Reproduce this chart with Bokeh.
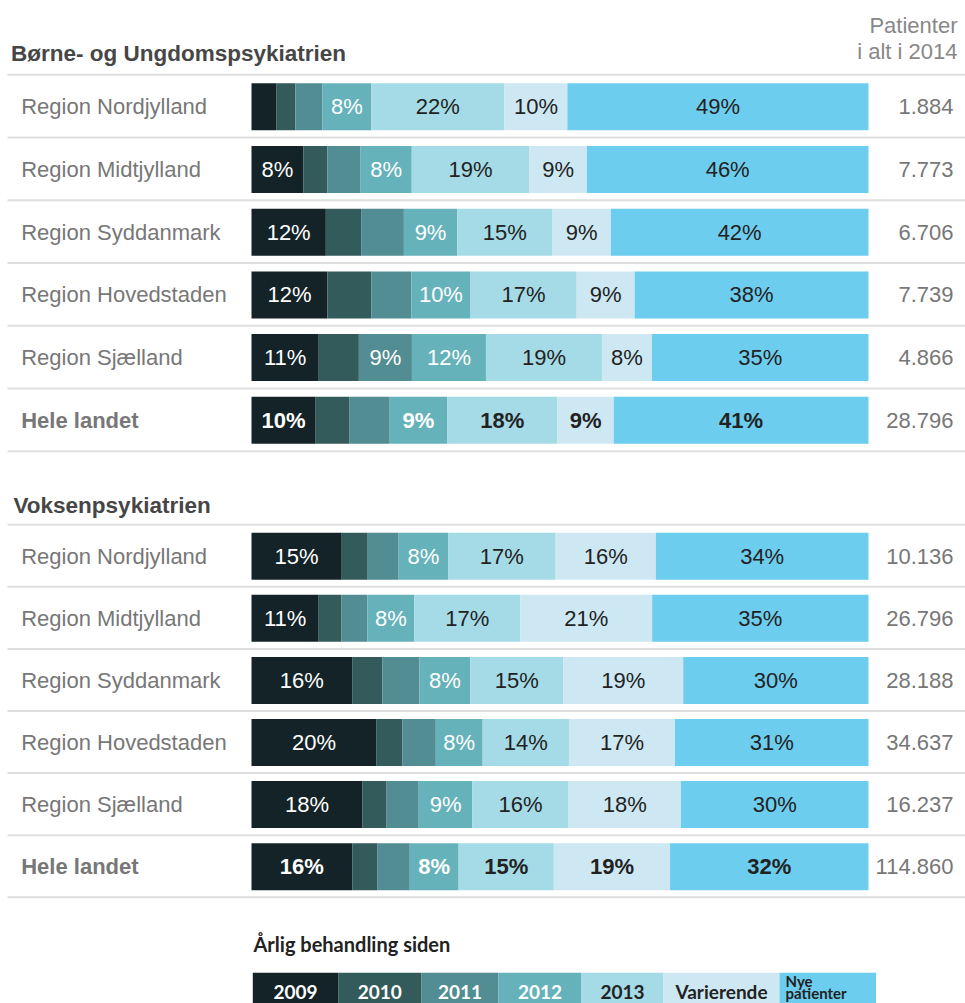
from bokeh.plotting import figure
from bokeh.models import Range1d, ColumnDataSource
from bokeh.core.properties import value
from bokeh.embed import file_html
from bokeh.resources import INLINE

# ---------------- data ----------------
regions = ["Region Nordjylland", "Region Midtjylland", "Region Syddanmark",
           "Region Hovedstaden", "Region Sjælland", "Hele landet"]
series = ["2009", "2010", "2011", "2012", "2013", "Varierende", "Nye patienter"]

bup_2009 = [4.0, 8.4, 12.0, 12.3, 10.9, 10.4]
bup_2010 = [3.1, 3.9, 5.7, 7.1, 6.5, 5.5]
bup_2011 = [4.4, 5.4, 6.9, 6.5, 8.6, 6.5]
bup_2012 = [7.9, 8.3, 8.6, 9.6, 12.0, 9.3]
bup_2013 = [21.6, 19.1, 15.4, 17.2, 18.8, 17.9]
bup_var = [10.2, 9.3, 9.4, 9.4, 8.1, 9.1]
bup_nye = [48.8, 45.7, 41.6, 37.9, 35.1, 41.3]
bup_total = [1884, 7773, 6706, 7739, 4866, 28796]

vok_2009 = [14.6, 10.9, 16.3, 20.3, 18.0, 16.3]
vok_2010 = [4.2, 3.7, 4.9, 4.2, 3.9, 4.1]
vok_2011 = [5.0, 4.2, 6.0, 5.4, 5.2, 5.2]
vok_2012 = [8.0, 7.6, 8.2, 7.6, 8.7, 7.9]
vok_2013 = [17.4, 17.2, 15.1, 14.0, 15.6, 15.4]
vok_var = [16.2, 21.4, 19.4, 17.2, 18.2, 18.8]
vok_nye = [34.4, 35.1, 30.0, 31.4, 30.4, 32.1]
vok_total = [10136, 26796, 28188, 34637, 16237, 114860]

section_titles = ["Børne- og Ungdomspsykiatrien", "Voksenpsykiatrien"]
header_lines = ["Patienter", "i alt i 2014"]
legend_title = "Årlig behandling siden"

# ---------------- styles ----------------
colors = ["#132327", "#345b5b", "#528d93", "#66b2bb", "#a5dbe6", "#cde8f3", "#6dcdee"]
label_colors = ["#ffffff", "#ffffff", "#ffffff", "#ffffff", "#222222", "#222222", "#222222"]
FONT = value("Liberation Sans")
GRAY = "#777777"

W, H = 965, 1003
X0 = 251.0      # pixel position of 0 %
PX = 6.17       # pixels per percent


def xd(px):
    return (px - X0) / PX


p = figure(width=W, height=H, x_range=Range1d(xd(0), xd(W)), y_range=Range1d(H, 0),
           output_backend="svg", toolbar_location=None, min_border=0)
p.axis.visible = False
p.grid.visible = False
p.outline_line_color = None
p.background_fill_color = "white"
p.border_fill_color = "white"

sections = [
    dict(title=section_titles[0], title_x=10.5, title_y=53,
         vals=[bup_2009, bup_2010, bup_2011, bup_2012, bup_2013, bup_var, bup_nye],
         totals=bup_total, top=74.3, pitch=62.73, off=31.9),
    dict(title=section_titles[1], title_x=13, title_y=505,
         vals=[vok_2009, vok_2010, vok_2011, vok_2012, vok_2013, vok_var, vok_nye],
         totals=vok_total, top=524.3, pitch=62.07, off=31.5),
]

for sec in sections:
    # separator lines
    ys = [sec["top"] + k * sec["pitch"] for k in range(len(regions) + 1)]
    p.segment(x0=[xd(7)] * len(ys), x1=[xd(W + 1)] * len(ys), y0=ys, y1=ys,
              line_color="#dedede", line_width=2)
    # title
    p.text(x=[xd(sec["title_x"])], y=[sec["title_y"]], text=[sec["title"]],
           text_font=FONT, text_font_style="bold", text_font_size="22.5px",
           text_color="#464646", text_baseline="middle", text_align="left")

    bars = dict(left=[], right=[], y=[], color=[])
    labs = dict(x=[], y=[], text=[], color=[], style=[])
    for i, reg in enumerate(regions):
        yc = sec["top"] + i * sec["pitch"] + sec["off"]
        row = [sec["vals"][s][i] for s in range(len(series))]
        tot = sum(row)
        cum = 0.0
        for s, v in enumerate(row):
            l = cum / tot * 100
            cum += v
            r = cum / tot * 100
            bars["left"].append(l)
            bars["right"].append(r)
            bars["y"].append(yc)
            bars["color"].append(colors[s])
            if v >= 7.5:
                labs["x"].append((l + r) / 2)
                labs["y"].append(yc)
                labs["text"].append(f"{int(v + 0.5)}%")
                labs["color"].append(label_colors[s])
                labs["style"].append("bold" if reg == "Hele landet" else "normal")
        # region label
        p.text(x=[xd(20.7)], y=[yc], text=[reg], text_font=FONT,
               text_font_style="bold" if reg == "Hele landet" else "normal",
               text_font_size="22px", text_color=GRAY, text_baseline="middle")
        # total
        tstr = f"{sec['totals'][i]:,}".replace(",", ".")
        p.text(x=[xd(953)], y=[yc], text=[tstr], text_font=FONT,
               text_font_size="22px", text_color=GRAY, text_baseline="middle",
               text_align="right")

    p.hbar(y="y", left="left", right="right", height=47, color="color",
           line_color=None, source=ColumnDataSource(bars))
    p.text(x="x", y="y", text="text", text_color="color", text_font_style="style",
           text_font=FONT, text_font_size="22px", text_align="center",
           text_baseline="middle", source=ColumnDataSource(labs))

# header on the right
p.text(x=[xd(957), xd(957)], y=[25, 51], text=header_lines, text_font=FONT,
       text_font_size="22px", text_color="#888888", text_align="right",
       text_baseline="middle")

# ---------------- legend ----------------
LFONT = value("Lato")
legend_edges_px = [252.3, 337.7, 421, 498, 581, 663, 779, 875.5]
p.text(x=[xd(253)], y=[943], text=[legend_title], text_font=LFONT,
       text_font_style="bold", text_font_size="20px", text_color="#222222",
       text_baseline="middle")
lg = dict(left=[xd(a) for a in legend_edges_px[:-1]],
          right=[xd(b) for b in legend_edges_px[1:]],
          top=[972.3] * len(series), bottom=[1020] * len(series), color=colors)
p.quad(left="left", right="right", top="top", bottom="bottom", color="color",
       line_color=None, source=ColumnDataSource(lg))
for s, name in enumerate(series):
    a, b = legend_edges_px[s], legend_edges_px[s + 1]
    if name == "Nye patienter":
        parts = name.split(" ")
        p.text(x=[xd(a + 6)] * 2, y=[980, 992], text=[parts[0], parts[1]],
               text_font=LFONT, text_font_style="bold", text_font_size="15px",
               text_color=label_colors[s], text_baseline="middle", text_align="left")
    else:
        p.text(x=[xd((a + b) / 2)], y=[991], text=[name], text_font=LFONT,
               text_font_style="bold", text_font_size="19px",
               text_color=label_colors[s], text_baseline="middle", text_align="center")

open("out.html", "w").write(file_html(p, INLINE))
